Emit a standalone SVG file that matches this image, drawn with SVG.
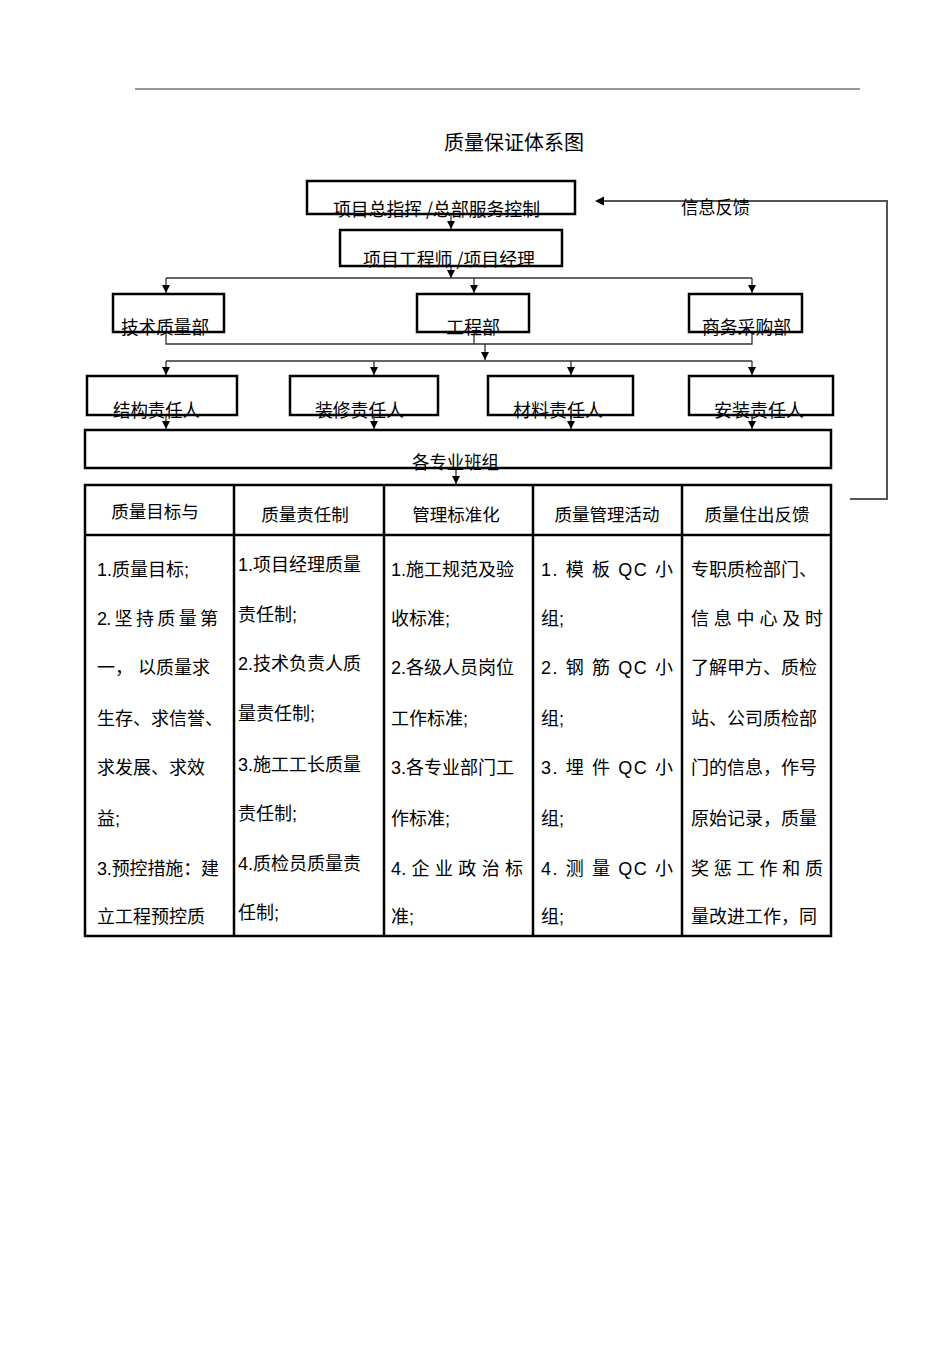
<svg xmlns="http://www.w3.org/2000/svg" width="950" height="1345" viewBox="0 0 950 1345">
<defs>
<marker id="arr" markerWidth="8" markerHeight="8" refX="8" refY="4" orient="auto" markerUnits="userSpaceOnUse">
<path d="M0,0 L8,4 L0,8 Z" fill="#000"/>
</marker>
<style>
.box{fill:none;stroke:#000;stroke-width:2.5}
.con{fill:none;stroke:#333;stroke-width:1.3}
.fb{fill:none;stroke:#555;stroke-width:2}
.bt{font-family:"Noto Sans CJK SC","Liberation Sans",sans-serif;font-size:18px;fill:#000}
.tt{font-family:"Liberation Sans","Noto Sans CJK SC",sans-serif;font-size:18px;fill:#000}
.th{font-family:"Liberation Sans","Noto Sans CJK SC",sans-serif;font-size:17.5px;fill:#000;text-anchor:middle}
.grid{fill:none;stroke:#000;stroke-width:2.5}
</style>
</defs>
<rect width="950" height="1345" fill="#fff"/>
<line x1="135" y1="89" x2="860" y2="89" stroke="#333" stroke-width="1"/>
<text x="514" y="150" font-family="Noto Sans CJK SC, Liberation Sans, sans-serif" font-size="20" text-anchor="middle">质量保证体系图</text>

<g id="connectors">
<line class="con" x1="451" y1="214" x2="451" y2="229" marker-end="url(#arr)"/>
<line class="con" x1="451" y1="266" x2="451" y2="278" marker-end="url(#arr)"/>
<line class="con" x1="166" y1="278" x2="752" y2="278"/>
<line class="con" x1="166" y1="278" x2="166" y2="293" marker-end="url(#arr)"/>
<line class="con" x1="474" y1="278" x2="474" y2="293" marker-end="url(#arr)"/>
<line class="con" x1="752" y1="278" x2="752" y2="293" marker-end="url(#arr)"/>
<polyline class="con" points="166,332 166,344 752,344 752,332"/>
<line class="con" x1="474" y1="332" x2="474" y2="344"/>
<line class="con" x1="485" y1="344" x2="485" y2="360" marker-end="url(#arr)"/>
<line class="con" x1="166" y1="361" x2="752" y2="361"/>
<line class="con" x1="166" y1="361" x2="166" y2="375" marker-end="url(#arr)"/>
<line class="con" x1="374" y1="361" x2="374" y2="375" marker-end="url(#arr)"/>
<line class="con" x1="571" y1="361" x2="571" y2="375" marker-end="url(#arr)"/>
<line class="con" x1="752" y1="361" x2="752" y2="375" marker-end="url(#arr)"/>
<line class="con" x1="166" y1="415" x2="166" y2="429" marker-end="url(#arr)"/>
<line class="con" x1="374" y1="415" x2="374" y2="429" marker-end="url(#arr)"/>
<line class="con" x1="571" y1="415" x2="571" y2="429" marker-end="url(#arr)"/>
<line class="con" x1="752" y1="415" x2="752" y2="429" marker-end="url(#arr)"/>
<line class="con" x1="456" y1="468" x2="456" y2="484" marker-end="url(#arr)"/>
<polyline class="fb" points="850,499 887,499 887,201 603,201"/>
<path d="M595,201 L604,196.5 L604,205.5 Z" fill="#000"/>
</g>
<text class="bt" x="681" y="214" textLength="69" lengthAdjust="spacingAndGlyphs">信息反馈</text>

<g id="n1"><rect class="box" x="307" y="181" width="268" height="33"/>
<text class="bt" x="333" y="216" textLength="207" lengthAdjust="spacingAndGlyphs">项目总指挥 /总部服务控制</text></g>
<g id="n2"><rect class="box" x="340" y="230" width="222" height="36"/>
<text class="bt" x="363" y="266" textLength="172" lengthAdjust="spacingAndGlyphs">项目工程师 /项目经理</text></g>

<g id="n3"><rect class="box" x="113" y="294" width="111" height="38"/>
<text class="bt" x="121" y="334" textLength="88" lengthAdjust="spacingAndGlyphs">技术质量部</text></g>
<g id="n4"><rect class="box" x="417" y="294" width="112" height="38"/>
<text class="bt" x="446" y="334" textLength="54" lengthAdjust="spacingAndGlyphs">工程部</text></g>
<g id="n5"><rect class="box" x="689" y="294" width="113" height="38"/>
<text class="bt" x="702" y="334" textLength="89" lengthAdjust="spacingAndGlyphs">商务采购部</text></g>

<g id="n6"><rect class="box" x="87" y="376" width="150" height="39"/>
<text class="bt" x="113" y="417" textLength="87" lengthAdjust="spacingAndGlyphs">结构责任人</text></g>
<g id="n7"><rect class="box" x="290" y="376" width="148" height="39"/>
<text class="bt" x="315" y="417" textLength="89" lengthAdjust="spacingAndGlyphs">装修责任人</text></g>
<g id="n8"><rect class="box" x="488" y="376" width="145" height="39"/>
<text class="bt" x="513" y="417" textLength="90" lengthAdjust="spacingAndGlyphs">材料责任人</text></g>
<g id="n9"><rect class="box" x="689" y="376" width="144" height="39"/>
<text class="bt" x="714" y="417" textLength="90" lengthAdjust="spacingAndGlyphs">安装责任人</text></g>

<g id="n10"><rect class="box" x="85" y="430" width="746" height="38"/>
<text class="bt" x="412" y="469" textLength="87" lengthAdjust="spacingAndGlyphs">各专业班组</text></g>

<g id="table">
<rect class="grid" x="85" y="485" width="746" height="451" stroke-width="3"/>
<line class="grid" x1="85" y1="535" x2="831" y2="535" stroke-width="3"/>
<line class="grid" x1="234" y1="485" x2="234" y2="936"/>
<line class="grid" x1="384" y1="485" x2="384" y2="936"/>
<line class="grid" x1="533" y1="485" x2="533" y2="936"/>
<line class="grid" x1="682" y1="485" x2="682" y2="936"/>

<text class="th" x="155" y="518">质量目标与</text>
<text class="th" x="305" y="521">质量责任制</text>
<text class="th" x="456" y="521">管理标准化</text>
<text class="th" x="607" y="521">质量管理活动</text>
<text class="th" x="757" y="521">质量住出反馈</text>

<g class="tt">
<text x="97" y="576">1.质量目标;</text>
<text x="97" y="625" textLength="121" lengthAdjust="spacing">2. 坚 持 质 量 第</text>
<text x="97" y="674">一， 以质量求</text>
<text x="97" y="725">生存、求信誉、</text>
<text x="97" y="774">求发展、求效</text>
<text x="97" y="825">益;</text>
<text x="97" y="875" textLength="122" lengthAdjust="spacing">3.预控措施：建</text>
<text x="97" y="923">立工程预控质</text>

<text x="238" y="571">1.项目经理质量</text>
<text x="238" y="621">责任制;</text>
<text x="238" y="670">2.技术负责人质</text>
<text x="238" y="720">量责任制;</text>
<text x="238" y="771">3.施工工长质量</text>
<text x="238" y="820">责任制;</text>
<text x="238" y="870">4.质检员质量责</text>
<text x="238" y="919">任制;</text>

<text x="391" y="576">1.施工规范及验</text>
<text x="391" y="625">收标准;</text>
<text x="391" y="674">2.各级人员岗位</text>
<text x="391" y="725">工作标准;</text>
<text x="391" y="774">3.各专业部门工</text>
<text x="391" y="825">作标准;</text>
<text x="391" y="875" textLength="132" lengthAdjust="spacing">4. 企 业 政 治 标</text>
<text x="391" y="923">准;</text>

<text x="541" y="576" textLength="132" lengthAdjust="spacing">1. 模 板  QC  小</text>
<text x="541" y="625">组;</text>
<text x="541" y="674" textLength="132" lengthAdjust="spacing">2. 钢 筋  QC  小</text>
<text x="541" y="725">组;</text>
<text x="541" y="774" textLength="132" lengthAdjust="spacing">3. 埋 件  QC  小</text>
<text x="541" y="825">组;</text>
<text x="541" y="875" textLength="132" lengthAdjust="spacing">4. 测 量  QC  小</text>
<text x="541" y="923">组;</text>

<text x="691" y="576">专职质检部门、</text>
<text x="691" y="625" textLength="132" lengthAdjust="spacing">信 息 中 心 及 时</text>
<text x="691" y="674">了解甲方、质检</text>
<text x="691" y="725">站、公司质检部</text>
<text x="691" y="774">门的信息，作号</text>
<text x="691" y="825">原始记录，质量</text>
<text x="691" y="875" textLength="132" lengthAdjust="spacing">奖 惩 工 作 和 质</text>
<text x="691" y="923">量改进工作，同</text>
</g>
</g>
</svg>
